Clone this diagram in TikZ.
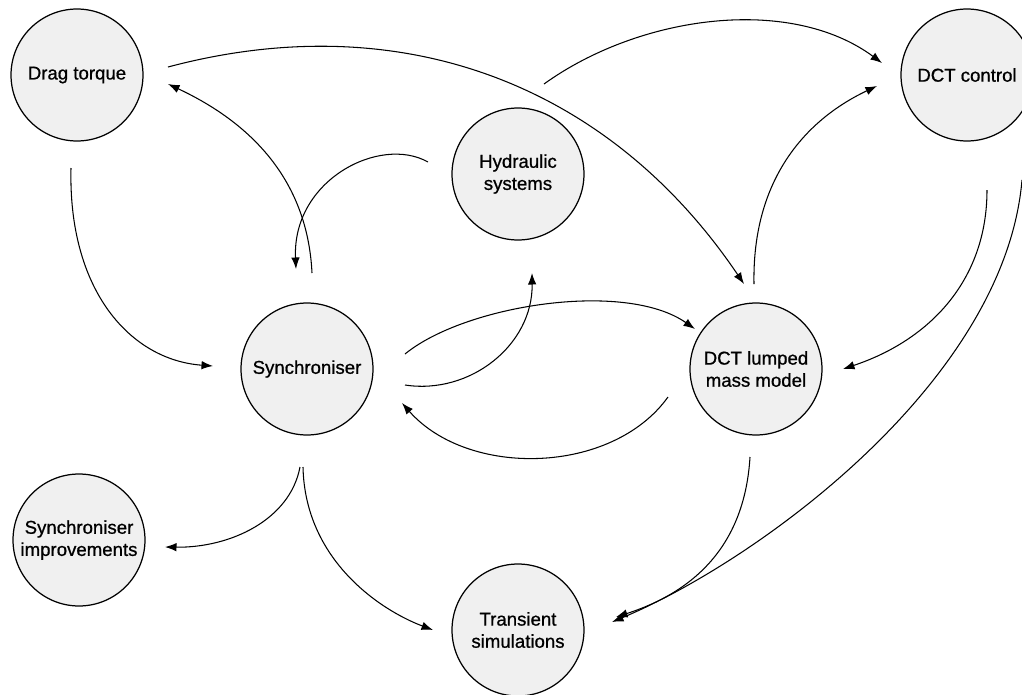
\documentclass[tikz,border=0pt]{standalone}
\usepackage{fontspec}
\setmainfont{Liberation Sans}
\newfontfamily\nodefont{Liberation Sans}[FakeBold=0.8]
\usetikzlibrary{arrows.meta,calc}
\begin{document}
\begin{tikzpicture}[x=0.02cm,y=-0.02cm,
  topic/.style={circle,draw=black,line width=0.7pt,fill=black!6,minimum size=2.64cm,inner sep=0pt,align=center,font=\fontsize{10.6}{12.6}\nodefont},
  link/.style={line width=0.6pt,-{Latex[length=2.3mm,width=1.7mm]}}]
\useasboundingbox (0,0) rectangle (1022,694);
\node[topic] (DT) at (77,75) {Drag torque};
\node[topic] (DC) at (967,75) {DCT control};
\node[topic] (HY) at (518,174) {Hydraulic\\systems};
\node[topic] (SY) at (307,369) {Synchroniser};
\node[topic] (DL) at (756,369) {DCT lumped\\mass model};
\node[topic] (SI) at (79,540) {Synchroniser\\improvements};
\node[topic] (TS) at (518,630) {Transient\\simulations};
% connectors
\draw[link] ($(DT)+(91,-8)$) .. controls (401,5) and (609,84) .. ($(DL)+(-12,-85)$);
\draw[link] ($(SY)+(5,-96)$) .. controls (308,190) and (262,128) .. ($(DT)+(91,9)$);
\draw[link] ($(HY)+(-90,-12)$) .. controls (380,135) and (292,180) .. ($(SY)+(-11,-100)$);
\draw[link] ($(HY)+(26,-90)$) .. controls (640,15) and (790,-5) .. ($(DC)+(-85,-12)$);
\draw[link] ($(DL)+(-2,-85)$) .. controls (752,180) and (805,120) .. ($(DC)+(-90,11)$);
\draw[link] ($(DC)+(20,115)$) .. controls (987,280) and (930,340) .. ($(DL)+(87,0)$);
\draw[link] ($(DC)+(55,105)$) .. controls (1005,380) and (760,560) .. ($(TS)+(94,-8)$);
\draw[link] ($(DL)+(-6,88)$) .. controls (745,540) and (700,590) .. ($(TS)+(98,-13)$);
\draw[link] ($(DT)+(-6,93)$) .. controls (68,290) and (130,360) .. ($(SY)+(-94,-3)$);
\draw[link] ($(SY)+(98,-15)$) .. controls (465,305) and (625,280) .. ($(DL)+(-61,-40)$);
\draw[link] ($(SY)+(98,16)$) .. controls (470,395) and (533,345) .. ($(HY)+(14,99)$);
\draw[link] ($(DL)+(-88,28)$) .. controls (612,475) and (468,478) .. ($(SY)+(95,34)$);
\draw[link] ($(SY)+(-7,98)$) .. controls (290,520) and (230,548) .. ($(SI)+(86,7)$);
\draw[link] ($(SY)+(-4,98)$) .. controls (305,560) and (380,610) .. ($(TS)+(-85,0)$);
\end{tikzpicture}
\end{document}
